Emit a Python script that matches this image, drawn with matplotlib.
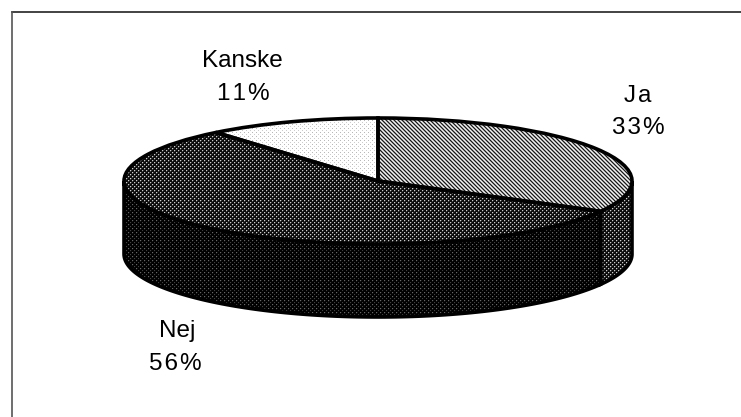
import numpy as np
import matplotlib
matplotlib.use('Agg')
import matplotlib.pyplot as plt
from matplotlib.lines import Line2D
from matplotlib.patches import Polygon

categories = ['Ja', 'Nej', 'Kanske']
values = [33, 56, 11]

W, H = 741, 417
CX, CY, RX, RY = 378, 181, 254, 63
DEPTH = 73 / RY
HAIR = '\u200a'

plt.rcParams['font.family'] = ['Liberation Sans', 'DejaVu Sans']

TILE_JA = [[.95, .6, .1, .6], [.6, .95, .6, .1], [.1, .6, .95, .6], [.6, .1, .6, .95]]
TILE_NEJ = [[.8, .25, .05, .05], [.25, .05, .05, .05], [.05, .05, .8, .25], [.05, .05, .25, .05]]
TILE_SIDE = [[.4, .08, 0, 0], [.08, 0, 0, 0], [0, 0, .25, .03], [0, 0, .03, 0]]
TILE_KANSKE = [[.72, 1, 1, 1], [1, 1, 1, 1], [1, 1, .8, 1], [1, 1, 1, 1]]


def texture(tile):
    tile = np.array(tile)
    return np.tile(tile, (H // 4 + 1, W // 4 + 1))[:H, :W]


fig = plt.figure(figsize=(W / 100, H / 100), dpi=100, facecolor='white')
ax = fig.add_axes([0, 0, 1, 1])

wedges, _ = ax.pie(values, startangle=90, counterclock=False, radius=1,
                   wedgeprops={'facecolor': 'none', 'edgecolor': 'black', 'linewidth': 2.6, 'zorder': 5})
ax.set_aspect('auto')
xlim = (-CX / RX, (W - CX) / RX)
ylim = ((CY - H) / RY, CY / RY)
ax.set_xlim(xlim)
ax.set_ylim(ylim)
ax.axis('off')
extent = [xlim[0], xlim[1], ylim[0], ylim[1]]


def textured(tile, clip, z):
    im = ax.imshow(texture(tile), cmap='gray', vmin=0, vmax=1, extent=extent, aspect='auto',
                   interpolation='nearest', zorder=z)
    im.set_clip_path(clip)


# side wall, only the front half of the rim shows
ja_end = 90 - 360 * values[0] / sum(values)
side_spans = [(0, ja_end, TILE_NEJ), (ja_end, -180, TILE_SIDE)]
for a0, a1, tile in side_spans:
    t = np.radians(np.linspace(a0, a1, 120))
    top = np.column_stack([np.cos(t), np.sin(t)])
    bottom = top[::-1] - [0, DEPTH]
    side = Polygon(np.vstack([top, bottom]), closed=True, facecolor='none', edgecolor='black',
                   linewidth=2.6, zorder=3, transform=ax.transData)
    ax.add_patch(side)
    textured(tile, side, 2)

top_tiles = [TILE_JA, TILE_NEJ, TILE_KANSKE]
for wedge, tile in zip(wedges, top_tiles):
    textured(tile, wedge, 4)


def spaced(s):
    return HAIR.join(s)


# labels, pixel positions from the picture
labels = [('Kanske', 242, 61), (spaced(f'{values[2]}%'), 243, 94),
          (spaced('Ja'), 638, 96), (spaced(f'{values[0]}%'), 638, 128),
          ('Nej', 177, 331), (spaced(f'{values[1]}%'), 175, 364)]
for text, x, y in labels:
    fig.text(x / W, 1 - y / H, text, fontsize=17.5, color='black', ha='center', va='center')

# scanned frame, top and left only
fig.add_artist(Line2D([12 / W, 1], [1 - 12 / H, 1 - 12 / H], color='#222222', lw=1.2))
fig.add_artist(Line2D([12 / W, 12 / W], [1 - 12 / H, 0], color='#555555', lw=1.2))

fig.savefig('out.png', dpi=100)
